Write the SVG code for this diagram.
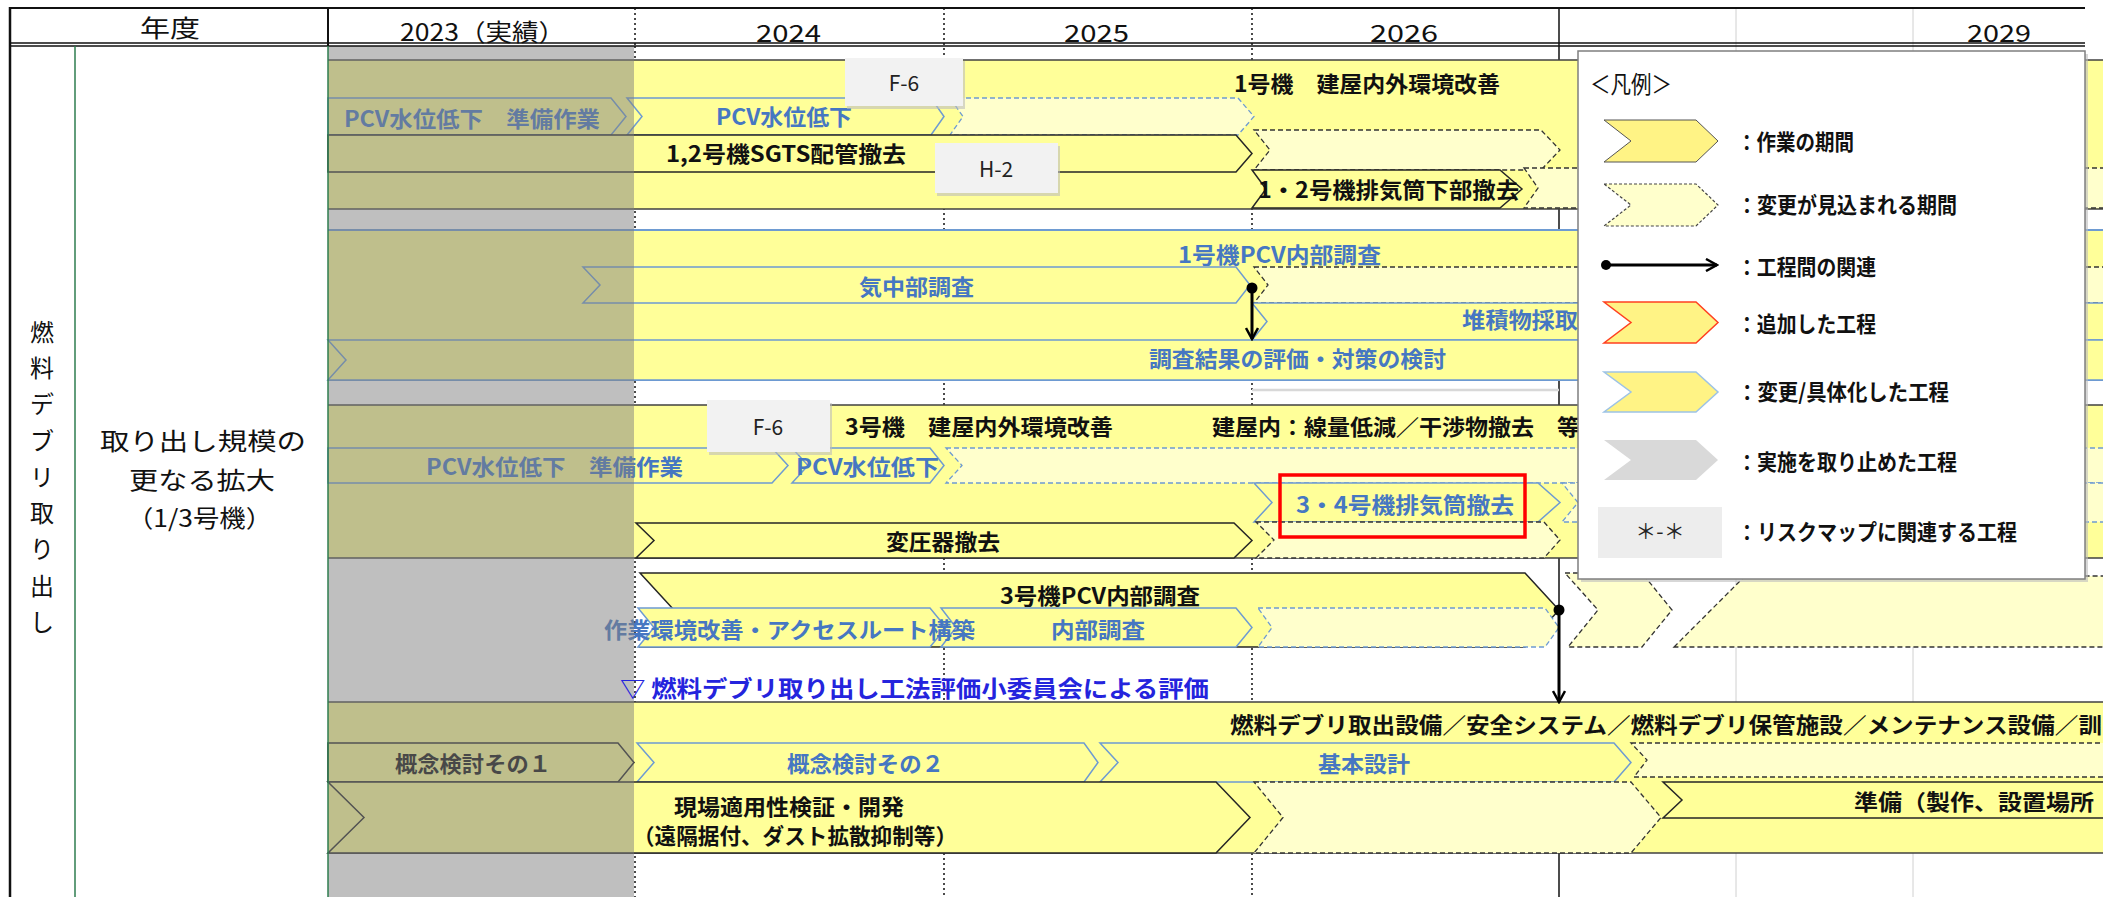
<svg xmlns="http://www.w3.org/2000/svg" width="2103" height="897" viewBox="0 0 2103 897">
<defs>
<style>
text{font-family:"Noto Sans CJK JP","Noto Sans",sans-serif;dominant-baseline:central}
.h{font-size:24px;font-weight:400;fill:#111}
.v{font-size:24px;font-weight:400;fill:#111;text-anchor:middle}
.b{font-size:22px;font-weight:700;fill:#111}
.bl{font-size:22px;font-weight:700;fill:#4677C2}
.n{font-size:21px;font-weight:400;fill:#222;text-anchor:middle}
.band{fill:#FFFF99}
.bline{stroke:#404040;stroke-width:1.5}
.blue{stroke:#6E9BD2;stroke-width:2}
.cy{fill:#FFFF99;stroke:#262626;stroke-width:1.5}
.cb{fill:#FFFF99;stroke:#6E9BD2;stroke-width:1.5}
.dk{fill:#FFFFCC;stroke:#333;stroke-width:1.3;stroke-dasharray:5 3}
.db{fill:#FFFFCC;stroke:#6E9BD2;stroke-width:1.3;stroke-dasharray:5 3}
.dot{stroke:#111;stroke-width:1.5;stroke-dasharray:2 3}
.grid{stroke:#D0D0D0;stroke-width:1}
.tag{fill:#F2F2F2}
.shadow{fill:#BDBDBD;opacity:.6}
.arr{stroke:#000;stroke-width:3;fill:none}
</style>
<marker id="ah" viewBox="0 0 14 14" refX="12" refY="7" markerWidth="14" markerHeight="14" markerUnits="userSpaceOnUse" orient="auto"><path d="M1,1 L12,7 L1,13" fill="none" stroke="#000" stroke-width="2.5"/></marker>
</defs>
<rect x="0" y="0" width="2103" height="897" fill="#FFFFFF"/>

<g id="grid">
<line class="dot" x1="635" y1="46" x2="635" y2="897"/>
<line class="dot" x1="944" y1="8" x2="944" y2="897"/>
<line class="dot" x1="1252" y1="8" x2="1252" y2="897"/>
<line class="grid" x1="1736" y1="8" x2="1736" y2="897"/>
<line class="grid" x1="1913" y1="8" x2="1913" y2="897"/>
<line stroke="#111" stroke-width="1.5" x1="1559" y1="8" x2="1559" y2="897"/>
<line stroke="#D8D8D8" stroke-width="2.5" x1="1252" y1="390" x2="1559" y2="390"/>
</g>

<g id="band1">
<rect class="band" x="328" y="60" width="1775" height="149"/>
<line class="bline" x1="328" y1="60" x2="2103" y2="60"/>
<line class="bline" x1="328" y1="209" x2="2103" y2="209"/>
<text class="b" x="1234" y="82" textLength="266" lengthAdjust="spacingAndGlyphs">1号機　建屋内外環境改善</text>
</g>
<g id="n-a1"><polygon class="cb" points="328,98 611,98 626,116.5 611,135 328,135"/><text class="bl" x="344" y="117" textLength="256" lengthAdjust="spacingAndGlyphs">PCV水位低下　準備作業</text></g>
<g id="n-a2"><polygon class="cb" points="627,98 931,98 944,116.5 931,135 627,135 642,116.5"/><text class="bl" x="716" y="115" textLength="136" lengthAdjust="spacingAndGlyphs">PCV水位低下</text></g>
<g id="n-a3"><polygon class="db" points="950,98 1238,98 1254,116.5 1238,135 950,135 963,116.5"/></g>
<g id="n-b1"><polygon class="cy" points="328,135 1236,135 1252,153.5 1236,172 328,172"/><text class="b" x="666" y="152" textLength="240" lengthAdjust="spacingAndGlyphs">1,2号機SGTS配管撤去</text></g>
<g id="n-b2"><polygon class="dk" points="1254,130 1541,130 1560,150 1541,170 1254,170 1270,150"/></g>
<g id="n-c2"><polygon class="dk" points="1524,168 2110,168 2110,208 1524,208 1538,188"/></g>
<g id="n-c1"><polygon class="cy" points="1252,170 1500,170 1522,189 1500,208 1252,208 1266,189"/><text class="b" x="1258" y="188" textLength="261" lengthAdjust="spacingAndGlyphs">1・2号機排気筒下部撤去</text></g>

<g id="band2">
<rect class="band" x="328" y="230" width="1775" height="150"/>
<line class="blue" x1="328" y1="230" x2="2103" y2="230"/>
<line class="blue" x1="328" y1="380" x2="2103" y2="380"/>
<text class="bl" x="1178" y="253" textLength="203" lengthAdjust="spacingAndGlyphs">1号機PCV内部調査</text>
</g>
<g id="n-d1"><polygon class="cb" points="583,267 1236,267 1250,285 1236,303 583,303 600,285"/><text class="bl" x="859" y="285" textLength="115" lengthAdjust="spacingAndGlyphs">気中部調査</text></g>
<g id="n-d2"><polygon class="dk" points="1254,267 2110,267 2110,303 1254,303 1268,285"/></g>
<g id="n-e1"><polygon class="cb" points="1252,303 2110,303 2110,340 1252,340 1267,321.5"/><text class="bl" x="1462" y="318" textLength="116" lengthAdjust="spacingAndGlyphs">堆積物採取</text></g>
<g id="n-f1"><polygon class="cb" points="328,340 2110,340 2110,380 328,380 346,360"/><text class="bl" x="1149" y="357" textLength="297" lengthAdjust="spacingAndGlyphs">調査結果の評価・対策の検討</text></g>

<g id="band3">
<rect class="band" x="328" y="405" width="1775" height="153"/>
<line class="bline" x1="328" y1="405" x2="2103" y2="405"/>
<line class="bline" x1="328" y1="558" x2="2103" y2="558"/>
<text class="b" x="845" y="425" textLength="268" lengthAdjust="spacingAndGlyphs">3号機　建屋内外環境改善</text>
<text class="b" x="1212" y="425" textLength="368" lengthAdjust="spacingAndGlyphs">建屋内：線量低減／干渉物撤去　等</text>
</g>
<g id="n-g1"><polygon class="cb" points="328,448 772,448 788,465.5 772,483 328,483"/><text class="bl" x="426" y="465" textLength="257" lengthAdjust="spacingAndGlyphs">PCV水位低下　準備作業</text></g>
<g id="n-g2"><polygon class="cb" points="792,448 930,448 944,465.5 930,483 792,483 808,465.5"/><text class="bl" x="796" y="465" textLength="143" lengthAdjust="spacingAndGlyphs">PCV水位低下</text></g>
<g id="n-g3"><polygon class="db" points="946,448 2110,448 2110,483 946,483 962,465.5"/></g>
<g id="n-h1"><polygon class="cb" points="1254,483 1538,483 1560,502.5 1538,522 1254,522 1272,502.5"/><text class="bl" x="1296" y="503" textLength="218" lengthAdjust="spacingAndGlyphs">3・4号機排気筒撤去</text></g>
<g id="n-h2"><polygon class="db" points="1562,483 2110,483 2110,522 1562,522 1578,502.5"/></g>
<g id="n-i1"><polygon class="cy" points="636,523 1234,523 1252,540.5 1234,558 636,558 654,540.5"/><text class="b" x="886" y="540" textLength="114" lengthAdjust="spacingAndGlyphs">変圧器撤去</text></g>
<g id="n-i2"><polygon class="dk" points="1256,522 1544,522 1560,540 1544,558 1256,558 1274,540"/></g>
<rect x="1280" y="475" width="245" height="62" fill="none" stroke="#FF0000" stroke-width="3.5"/>

<g id="n-j1"><polygon class="cy" points="640,573 1525,573 1559,610 1525,647 640,647 674,610"/><text class="b" x="1000" y="594" textLength="200" lengthAdjust="spacingAndGlyphs">3号機PCV内部調査</text></g>
<g id="n-k1"><polygon class="cb" points="638,608 930,608 946,627.5 930,647 638,647 654,627.5"/></g>
<g id="n-k2"><polygon class="cb" points="941,608 1236,608 1252,627.5 1236,647 941,647 956,627.5"/><text class="bl" x="1051" y="628" textLength="94" lengthAdjust="spacingAndGlyphs">内部調査</text></g>
<g id="n-k3"><polygon class="db" points="1258,608 1545,608 1559,627.5 1545,647 1258,647 1272,627.5"/></g>
<text class="bl" x="604" y="628" textLength="371" lengthAdjust="spacingAndGlyphs">作業環境改善・アクセスルート構築</text>
<g id="n-l1"><polygon class="dk" points="1565,573 1642,573 1672,610 1642,647 1568,647 1598,610"/></g>
<g id="n-l2"><polygon class="dk" points="1674,647 1745,576 2110,576 2110,647"/></g>

<g id="band5">
<rect class="band" x="328" y="702" width="1775" height="151"/>
<line class="bline" x1="328" y1="702" x2="2103" y2="702"/>
<line class="bline" x1="328" y1="853" x2="2103" y2="853"/>
<text class="b" x="1230" y="723" textLength="872" lengthAdjust="spacingAndGlyphs">燃料デブリ取出設備／安全システム／燃料デブリ保管施設／メンテナンス設備／訓</text>
</g>
<g id="n-m1"><polygon class="cy" points="328,743 618,743 634,762.5 618,782 328,782"/><text class="b" x="395" y="762" textLength="156" lengthAdjust="spacingAndGlyphs">概念検討その１</text></g>
<g id="n-m2"><polygon class="cb" points="637,743 1084,743 1098,762.5 1084,782 637,782 654,762.5"/><text class="bl" x="787" y="762" textLength="157" lengthAdjust="spacingAndGlyphs">概念検討その２</text></g>
<g id="n-m3"><polygon class="cb" points="1100,743 1614,743 1631,762.5 1614,782 1100,782 1118,762.5"/><text class="bl" x="1318" y="762" textLength="92" lengthAdjust="spacingAndGlyphs">基本設計</text></g>
<g id="n-m4"><polygon class="dk" points="1631,743 2110,743 2110,777 1634,777 1647,760"/></g>
<g id="n-n1"><polygon class="cy" points="328,782 1216,782 1250,817.5 1216,853 328,853 364,817.5"/><text class="b" x="674" y="805" font-size="21" textLength="230" lengthAdjust="spacingAndGlyphs">現場適用性検証・開発</text><text class="b" x="633" y="834" font-size="21" textLength="324" lengthAdjust="spacingAndGlyphs">（遠隔据付、ダスト拡散抑制等）</text></g>
<g id="n-n2"><polygon class="dk" points="1254,782 1631,782 1661,817.5 1631,853 1254,853 1283,817.5"/></g>
<g id="n-n3"><polygon class="cy" points="1663,782 2110,782 2110,818 1663,818 1682,800"/><text class="b" x="1854" y="800" textLength="240" lengthAdjust="spacingAndGlyphs">準備（製作、設置場所</text></g>

<rect id="overlay2023" x="328" y="46" width="306" height="851" fill="#808080" opacity="0.5"/>

<g id="tags">
<rect class="shadow" x="847" y="61" width="118" height="48"/><rect class="tag" x="845" y="58" width="118" height="48"/><text class="n" x="904" y="82">F-6</text>
<rect class="shadow" x="937" y="146" width="123" height="50"/><rect class="tag" x="935" y="143" width="123" height="50"/><text class="n" x="996" y="168">H-2</text>
<rect class="shadow" x="709" y="403" width="123" height="52"/><rect class="tag" x="707" y="400" width="123" height="52"/><text class="n" x="768" y="426">F-6</text>
</g>

<text x="620" y="687" font-size="23" font-weight="700" fill="#2424DD" textLength="589" lengthAdjust="spacingAndGlyphs">▽ 燃料デブリ取り出し工法評価小委員会による評価</text>

<g id="connectors">
<circle cx="1252" cy="288" r="5.5" fill="#000"/>
<line class="arr" x1="1252" y1="288" x2="1252" y2="339" marker-end="url(#ah)"/>
<circle cx="1559" cy="610" r="5.5" fill="#000"/>
<line class="arr" x1="1559" y1="610" x2="1559" y2="702" marker-end="url(#ah)"/>
</g>

<g id="frame">
<line stroke="#111" stroke-width="2" x1="10" y1="8" x2="2085" y2="8"/>
<line stroke="#111" stroke-width="1.5" x1="10" y1="43" x2="2085" y2="43"/>
<line stroke="#111" stroke-width="1.5" x1="10" y1="46" x2="2085" y2="46"/>
<line stroke="#111" stroke-width="2.5" x1="10" y1="7" x2="10" y2="897"/>
<line stroke="#111" stroke-width="2" x1="328" y1="8" x2="328" y2="46"/>
<line class="dot" x1="635" y1="8" x2="635" y2="46"/>
<line stroke="#2E7D4F" stroke-width="1.5" x1="75" y1="46" x2="75" y2="897"/>
<line stroke="#2E7D4F" stroke-width="1.5" x1="328" y1="46" x2="328" y2="897"/>
<text class="h" x="140" y="26" textLength="60" lengthAdjust="spacingAndGlyphs">年度</text>
<text class="h" x="400" y="30" textLength="165" lengthAdjust="spacingAndGlyphs">2023（実績）</text>
<text class="h" x="756" y="31" textLength="65" lengthAdjust="spacingAndGlyphs">2024</text>
<text class="h" x="1064" y="31" textLength="65" lengthAdjust="spacingAndGlyphs">2025</text>
<text class="h" x="1370" y="31" textLength="68" lengthAdjust="spacingAndGlyphs">2026</text>
<text class="h" x="1967" y="31" textLength="64" lengthAdjust="spacingAndGlyphs">2029</text>
</g>

<g id="leftlabels">
<text class="v" x="42" y="330">燃</text>
<text class="v" x="42" y="366">料</text>
<text class="v" x="42" y="402">デ</text>
<text class="v" x="42" y="439">ブ</text>
<text class="v" x="42" y="475">リ</text>
<text class="v" x="42" y="511">取</text>
<text class="v" x="42" y="547">り</text>
<text class="v" x="42" y="584">出</text>
<text class="v" x="42" y="620">し</text>
<text class="h" x="100" y="439" font-size="26" textLength="206" lengthAdjust="spacingAndGlyphs">取り出し規模の</text>
<text class="h" x="129" y="478" font-size="26" textLength="146" lengthAdjust="spacingAndGlyphs">更なる拡大</text>
<text class="h" x="127" y="516" font-size="26" textLength="145" lengthAdjust="spacingAndGlyphs">（1/3号機）</text>
</g>

<g id="legend">
<rect x="1581" y="54" width="507" height="528" fill="#BDBDBD" opacity="0.6"/>
<rect x="1578" y="51" width="507" height="528" fill="#FFFFFF" stroke="#7F7F7F" stroke-width="1.5"/>
<text class="h" x="1590" y="82" textLength="82" lengthAdjust="spacingAndGlyphs">＜凡例＞</text>
<polygon points="1604,120 1696,120 1718,141 1696,162 1604,162 1631,141" fill="#FFF385" stroke="#555" stroke-width="1"/>
<text class="b" x="1737" y="140" textLength="117" lengthAdjust="spacingAndGlyphs">：作業の期間</text>
<polygon points="1604,184 1696,184 1718,205 1696,226 1604,226 1631,205" fill="#FFFFCC" stroke="#444" stroke-width="1.2" stroke-dasharray="3 2"/>
<text class="b" x="1737" y="203" textLength="220" lengthAdjust="spacingAndGlyphs">：変更が見込まれる期間</text>
<circle cx="1606" cy="265" r="5" fill="#000"/>
<line class="arr" x1="1606" y1="265" x2="1717" y2="265" marker-end="url(#ah)"/>
<text class="b" x="1737" y="265" textLength="139" lengthAdjust="spacingAndGlyphs">：工程間の関連</text>
<polygon points="1604,302 1696,302 1718,322.5 1696,343 1604,343 1631,322.5" fill="#FFF385" stroke="#FF4020" stroke-width="1.5"/>
<text class="b" x="1737" y="322" textLength="139" lengthAdjust="spacingAndGlyphs">：追加した工程</text>
<polygon points="1604,372 1696,372 1718,392 1696,412 1604,412 1631,392" fill="#FFF385" stroke="#9DC3E6" stroke-width="1.5"/>
<text class="b" x="1737" y="390" textLength="212" lengthAdjust="spacingAndGlyphs">：変更/具体化した工程</text>
<polygon points="1604,440 1696,440 1718,460 1696,480 1604,480 1631,460" fill="#D9D9D9"/>
<text class="b" x="1737" y="460" textLength="220" lengthAdjust="spacingAndGlyphs">：実施を取り止めた工程</text>
<rect x="1598" y="507" width="124" height="51" fill="#EDEDED"/>
<text class="n" x="1660" y="530" font-size="18">＊-＊</text>
<text class="b" x="1737" y="530" textLength="280" lengthAdjust="spacingAndGlyphs">：リスクマップに関連する工程</text>
</g>
</svg>
